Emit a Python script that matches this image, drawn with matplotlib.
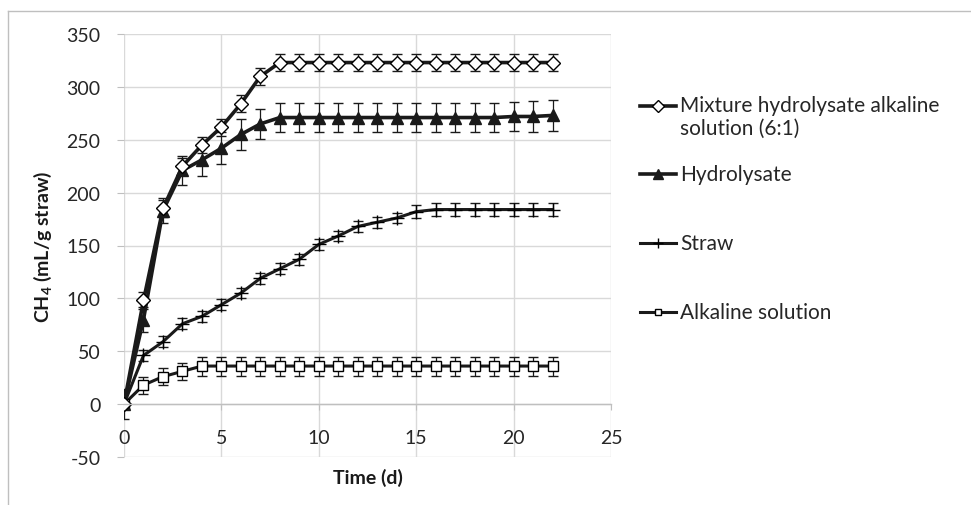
import matplotlib
matplotlib.use('Agg')
import matplotlib.pyplot as plt
from matplotlib.lines import Line2D

plt.rcParams['font.family'] = ['Lato', 'DejaVu Sans']
plt.rcParams['mathtext.fontset'] = 'custom'
plt.rcParams['mathtext.rm'] = 'Lato'
plt.rcParams['mathtext.bf'] = 'Lato:bold'
plt.rcParams['mathtext.default'] = 'bf'
plt.rcParams['axes.unicode_minus'] = False

# Days 0..22
days = list(range(0, 23))

# Cumulative CH4 yield (mL/g straw)
mixture = [0, 98, 185, 225, 245, 262, 284, 310, 323, 323, 323, 323, 323, 323,
           323, 323, 323, 323, 323, 323, 323, 323, 323]
mixture_err = [4, 8, 8, 8, 8, 8, 8, 8, 8, 8, 8, 8, 8, 8,
               8, 8, 8, 8, 8, 8, 8, 8, 8]

hydrolysate = [0, 80, 183, 221, 231, 242, 255, 265, 271, 271, 271, 271, 271, 271,
               271, 271, 271, 271, 271, 271, 272, 272, 273]
hydrolysate_err = [14, 12, 12, 14, 15, 15, 15, 14, 14, 14, 14, 14, 14, 14,
                   14, 14, 14, 14, 14, 14, 14, 15, 15]

straw = [0, 46, 59, 76, 83, 94, 105, 119, 128, 137, 151, 159, 168, 172,
         176, 182, 184, 184, 184, 184, 184, 184, 184]
straw_err = [5, 5, 5, 5, 5, 5, 5, 5, 5, 5, 5, 5, 5, 5,
             5, 6, 6, 6, 6, 6, 6, 6, 6]

alkaline = [0, 18, 26, 31, 36, 36, 36, 36, 36, 36, 36, 36, 36, 36,
            36, 36, 36, 36, 36, 36, 36, 36, 36]
alkaline_err = [3, 8, 8, 8, 9, 9, 9, 9, 9, 9, 9, 9, 9, 9,
                9, 9, 9, 9, 9, 9, 9, 9, 9]

labels = ['Mixture hydrolysate alkaline\nsolution (6:1)', 'Hydrolysate',
          'Straw', 'Alkaline solution']

fig = plt.figure(figsize=(9.71, 5.06), dpi=100)
ax = fig.add_axes([124 / 971, 1 - 458 / 506, 487 / 971, 423 / 506])

grid_c = '#d9d9d9'
styles = [
    dict(marker='D', ms=7.5, mfc='white', mec='black', mew=1.0, lw=2.6),
    dict(marker='^', ms=9, mfc='#1a1a1a', mec='#1a1a1a', mew=1.0, lw=2.6),
    dict(marker='+', ms=10, mfc='black', mec='black', mew=1.0, lw=2.2),
    dict(marker='s', ms=6.5, mfc='white', mec='black', mew=1.0, lw=2.2),
]
series = [(mixture, mixture_err), (hydrolysate, hydrolysate_err),
          (straw, straw_err), (alkaline, alkaline_err)]

# draw from the bottom series up so the top ones overlap like the original
for (vals, err), st in reversed(list(zip(series, styles))):
    ax.errorbar(days, vals, yerr=err, color='#1a1a1a', ecolor='#1a1a1a',
                elinewidth=0.9, capsize=3.5, capthick=0.9,
                solid_joinstyle='round', **st)

ax.set_xlim(0, 25)
ax.set_ylim(-50, 350)
ax.set_xticks(range(0, 26, 5))
ax.set_yticks(range(-50, 351, 50))
ax.grid(True, color=grid_c, lw=1.0)
ax.set_axisbelow(True)

for s in ['top', 'right', 'left']:
    ax.spines[s].set_visible(False)
ax.spines['bottom'].set_position(('data', 0))
ax.spines['bottom'].set_color('#bfbfbf')
ax.spines['bottom'].set_linewidth(1.0)

ax.tick_params(axis='x', length=4, color='#bfbfbf', pad=14, labelsize=14,
               labelcolor='#262626')
ax.tick_params(axis='y', length=5, color='#bfbfbf', pad=12, labelsize=14,
               labelcolor='#262626')

ax.set_xlabel('Time (d)', fontsize=14, fontweight='bold', color='#1a1a1a',
              labelpad=0)
ax.xaxis.set_label_coords(0.5, -0.026)
ax.set_ylabel(r'CH$_4$ (mL/g straw)', fontsize=14, fontweight='bold',
              color='#1a1a1a')
ax.yaxis.set_label_coords(-0.143, 0.5)

# legend drawn by hand so the first handle sits on the first text line
leg_y = [107, 175, 244, 313]
for st, lab, y in zip(styles, labels, leg_y):
    yf = 1 - y / 506
    kw = dict(st)
    kw['ms'] = kw['ms'] * 0.75
    fig.add_artist(Line2D([640 / 971, 658 / 971, 676 / 971], [yf, yf, yf],
                          transform=fig.transFigure, color='#1a1a1a',
                          markevery=[1], **kw))
    if '\n' in lab:
        fig.text(680 / 971, yf + 11 / 506, lab, fontsize=15, color='#262626',
                 va='top', linespacing=1.2)
    else:
        fig.text(680 / 971, yf, lab, fontsize=15, color='#262626',
                 va='center')

# outer frame of the chart (cropped: only left and top visible)
fig.add_artist(Line2D([8 / 971, 8 / 971], [0, 1 - 12 / 506],
                      transform=fig.transFigure, color='#bfbfbf', lw=1.0))
fig.add_artist(Line2D([8 / 971, 1], [1 - 12 / 506, 1 - 12 / 506],
                      transform=fig.transFigure, color='#bfbfbf', lw=1.0))

fig.savefig('out.png', dpi=100)
